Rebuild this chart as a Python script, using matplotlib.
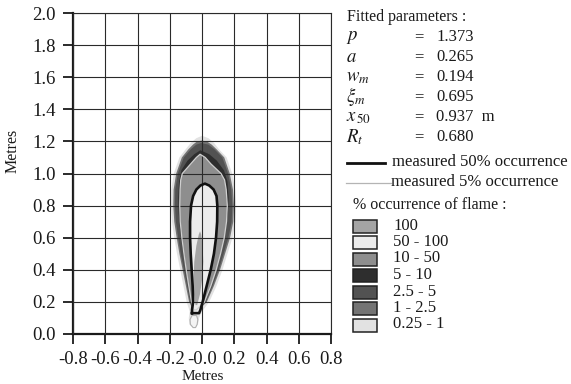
import numpy as np
import matplotlib
matplotlib.use("Agg")
import matplotlib.pyplot as plt
from matplotlib.patches import Rectangle

plt.rcParams['font.family'] = ['Liberation Serif', 'DejaVu Serif']
plt.rcParams['mathtext.fontset'] = 'stix'
plt.rcParams['axes.unicode_minus'] = False

# ---- flame occurrence bands: heights (m) with left / right edges (m) ----
# 0.25 - 1 %
h_025 = [0.04, 0.06, 0.10, 0.14, 0.20, 0.30, 0.40, 0.50, 0.60, 0.70, 0.80, 0.90, 1.00, 1.10, 1.15, 1.19, 1.22, 1.235]
l_025 = [-0.055, -0.078, -0.082, -0.076, -0.095, -0.115, -0.135, -0.155, -0.172, -0.186, -0.192, -0.190, -0.175, -0.140, -0.102, -0.070, -0.035, 0.0]
r_025 = [-0.040, -0.025, -0.018, 0.000, 0.045, 0.090, 0.127, 0.158, 0.189, 0.208, 0.212, 0.206, 0.187, 0.153, 0.106, 0.075, 0.040, 0.0]
# 1 - 2.5 %
h_1 = [0.13, 0.20, 0.30, 0.40, 0.50, 0.60, 0.70, 0.80, 0.90, 1.00, 1.10, 1.15, 1.18, 1.20, 1.205]
l_1 = [-0.045, -0.080, -0.100, -0.120, -0.140, -0.157, -0.172, -0.178, -0.176, -0.160, -0.125, -0.085, -0.056, -0.030, 0.0]
r_1 = [-0.040, 0.030, 0.074, 0.112, 0.143, 0.174, 0.194, 0.198, 0.192, 0.172, 0.138, 0.091, 0.060, 0.030, 0.0]
# 2.5 - 5 %
h_25 = [0.15, 0.20, 0.30, 0.40, 0.50, 0.60, 0.70, 0.80, 0.90, 1.00, 1.10, 1.15, 1.18, 1.19]
l_25 = [-0.048, -0.074, -0.093, -0.112, -0.132, -0.148, -0.162, -0.168, -0.166, -0.150, -0.113, -0.070, -0.035, -0.005]
r_25 = [-0.036, 0.024, 0.066, 0.104, 0.134, 0.164, 0.184, 0.188, 0.182, 0.162, 0.126, 0.078, 0.040, -0.005]
# 5 - 10 %
h_5 = [0.18, 0.25, 0.35, 0.45, 0.55, 0.65, 0.75, 0.85, 0.95, 1.02, 1.08, 1.12, 1.145]
l_5 = [-0.056, -0.075, -0.092, -0.108, -0.123, -0.136, -0.144, -0.147, -0.142, -0.128, -0.090, -0.048, -0.010]
r_5 = [-0.036, 0.030, 0.066, 0.097, 0.124, 0.146, 0.160, 0.165, 0.158, 0.136, 0.092, 0.045, -0.010]
# 10 - 50 % (its outer edge is the measured 5 % contour)
h_10 = [0.15, 0.20, 0.30, 0.40, 0.50, 0.60, 0.70, 0.80, 0.90, 0.96, 1.00, 1.06, 1.10, 1.12]
l_10 = [-0.052, -0.065, -0.082, -0.098, -0.112, -0.125, -0.135, -0.138, -0.136, -0.132, -0.122, -0.070, -0.035, -0.012]
r_10 = [-0.035, 0.015, 0.055, 0.088, 0.115, 0.138, 0.152, 0.157, 0.150, 0.140, 0.118, 0.055, 0.020, -0.012]
# 50 - 100 % (its edge is the measured 50 % contour)
h_50 = [0.13, 0.15, 0.20, 0.30, 0.40, 0.50, 0.60, 0.70, 0.80, 0.86, 0.90, 0.925, 0.937]
l_50 = [-0.062, -0.062, -0.055, -0.058, -0.064, -0.070, -0.074, -0.074, -0.068, -0.055, -0.035, -0.010, 0.018]
r_50 = [-0.018, -0.010, 0.004, 0.029, 0.054, 0.074, 0.087, 0.094, 0.095, 0.090, 0.072, 0.045, 0.018]
# 100 %
h_100 = [0.18, 0.25, 0.35, 0.45, 0.55, 0.62, 0.64]
l_100 = [-0.040, -0.050, -0.052, -0.048, -0.035, -0.020, -0.012]
r_100 = [-0.030, -0.012, 0.002, 0.008, 0.004, -0.005, -0.012]
# small detached patch below the tip
h_tip = [0.04, 0.06, 0.09, 0.115]
l_tip = [-0.055, -0.072, -0.074, -0.062]
r_tip = [-0.040, -0.030, -0.026, -0.034]

occ_labels = ['100', '50 - 100', '10 - 50', '5 - 10', '2.5 - 5', '1 - 2.5', '0.25 - 1']
occ_colors = ['#a4a4a4', '#ececec', '#8e8e8e', '#2e2e2e', '#525252', '#747474', '#e2e2e2']

param_symbols = [r'$p$', r'$a$', r'$w_m$', r'$\xi_m$', r'$x_{\,50}$', r'$R_t$']
param_values = ['1.373', '0.265', '0.194', '0.695', '0.937  m', '0.680']

x_ticks = [-0.8, -0.6, -0.4, -0.2, 0.0, 0.2, 0.4, 0.6, 0.8]
x_tick_labels = ['-0.8', '-0.6', '-0.4', '-0.2', '-0.0', '0.2', '0.4', '0.6', '0.8']
y_ticks = [0.0, 0.2, 0.4, 0.6, 0.8, 1.0, 1.2, 1.4, 1.6, 1.8, 2.0]
y_tick_labels = ['0.0', '0.2', '0.4', '0.6', '0.8', '1.0', '1.2', '1.4', '1.6', '1.8', '2.0']

W, H = 571, 384
fig = plt.figure(figsize=(W / 100, H / 100), dpi=100)
ax = fig.add_axes([73 / W, (H - 334) / H, 258 / W, 321 / H])


def outline(h, l, r):
    xs = list(l) + list(r)[::-1]
    ys = list(h) + list(h)[::-1]
    return xs, ys


color_of = dict(zip(occ_labels, occ_colors))
bands = [
    ('0.25 - 1', h_025, l_025, r_025),
    ('1 - 2.5', h_1, l_1, r_1),
    ('2.5 - 5', h_25, l_25, r_25),
    ('5 - 10', h_5, l_5, r_5),
    ('10 - 50', h_10, l_10, r_10),
    ('50 - 100', h_50, l_50, r_50),
    ('100', h_100, l_100, r_100),
]
for name, h, l, r in bands:
    xs, ys = outline(h, l, r)
    ax.fill(xs, ys, color=color_of[name], lw=0, zorder=1)

xs, ys = outline(h_tip, l_tip, r_tip)
ax.fill(xs, ys, facecolor='#f4f4f4', edgecolor='#b0b0b0', lw=0.8, zorder=1)

# measured contours
xs, ys = outline(h_10, l_10, r_10)
ax.plot(xs + [xs[0]], ys + [ys[0]], color='#cfcfcf', lw=0.9, zorder=3)
xs, ys = outline(h_50, l_50, r_50)
ax.plot(xs + [xs[0]], ys + [ys[0]], color='#111111', lw=1.9, zorder=3,
        solid_joinstyle='round')

ax.set_xlim(-0.8, 0.8)
ax.set_ylim(0.0, 2.0)
ax.set_xticks(x_ticks)
ax.set_xticklabels(x_tick_labels)
ax.set_yticks(y_ticks)
ax.set_yticklabels(y_tick_labels)
ax.set_axisbelow(False)
ax.grid(True, color='#2a2a2a', lw=0.8, zorder=2)
ax.tick_params(direction='out', length=7.5, width=1.3, colors='#1a1a1a',
               labelsize=13.5, pad=5)
ax.tick_params(axis='x', pad=5)
for side in ('left', 'bottom'):
    ax.spines[side].set_linewidth(1.6)
    ax.spines[side].set_color('#1a1a1a')
for side in ('top', 'right'):
    ax.spines[side].set_linewidth(0.8)
    ax.spines[side].set_color('#2a2a2a')

# overlay in pixel coordinates for labels and the key
ov = fig.add_axes([0, 0, 1, 1], facecolor='none')
ov.set_xlim(0, W)
ov.set_ylim(H, 0)
ov.axis('off')

ov.text(203, 377, 'Metres', ha='center', va='center', fontsize=11, color='#1a1a1a')
ov.text(13, 151, 'Metres', ha='center', va='center', rotation=90, fontsize=11.5,
        color='#1a1a1a')

ov.text(347, 17, 'Fitted parameters :', ha='left', va='center', fontsize=11.5,
        color='#1a1a1a')
for i, (sym, val) in enumerate(zip(param_symbols, param_values)):
    y = 37 + 20 * i
    ov.text(346, y, sym, ha='left', va='center', fontsize=13.5, color='#1a1a1a')
    ov.text(419, y, '=', ha='center', va='center', fontsize=12, color='#1a1a1a')
    ov.text(436, y, val, ha='left', va='center', fontsize=12, color='#1a1a1a')

ov.plot([347, 385], [163, 163], color='#111111', lw=2.0)
ov.text(392, 162, 'measured 50% occurrence', ha='left', va='center', fontsize=12,
        color='#1a1a1a')
ov.plot([346, 391], [183, 183], color='#b4b4b4', lw=0.9)
ov.text(391, 182, 'measured 5% occurrence', ha='left', va='center', fontsize=12,
        color='#1a1a1a')

ov.text(353, 205, '% occurrence of flame :', ha='left', va='center', fontsize=11.5,
        color='#1a1a1a')
for i, (lab, col) in enumerate(zip(occ_labels, occ_colors)):
    yc = 226 + 16.5 * i
    ov.add_patch(Rectangle((353, yc - 6.5), 24, 13, facecolor=col,
                           edgecolor='#222222', lw=1.1))
    ov.text(393, yc - 0.5, lab, ha='left', va='center', fontsize=12, color='#1a1a1a')

fig.savefig('out.png', dpi=100, facecolor='white')
